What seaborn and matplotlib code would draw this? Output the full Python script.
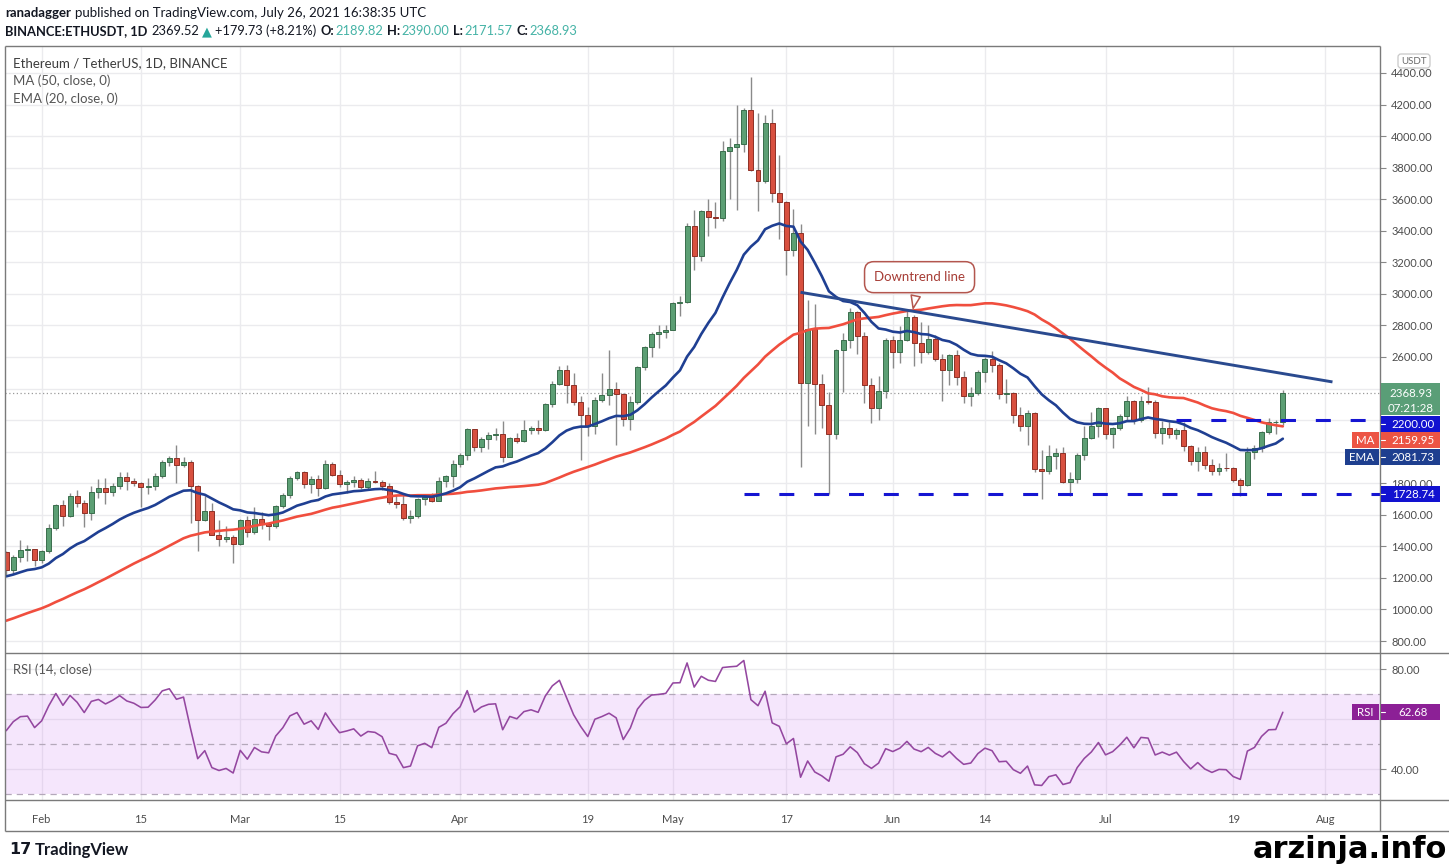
import numpy as np
import pandas as pd
import matplotlib
matplotlib.use("Agg")
import matplotlib.pyplot as plt
import matplotlib.dates as mdates
from matplotlib.patches import Rectangle, FancyBboxPatch
import seaborn as sns

# ---------------- data (ETH/USDT daily, Binance) ----------------
# closes before the visible window (Dec 8 2020 .. Jan 26 2021), used only to warm up MA/EMA/RSI
warmup_closes = [567, 573, 560, 545, 568, 590, 586, 589, 636, 643, 654, 658, 638, 609, 634, 584,
                 612, 626, 636, 683, 730, 731, 751, 737,
                 730, 774, 975, 1040, 1100, 1208, 1225, 1224, 1281, 1262, 1088, 1049, 1130, 1218,
                 1171, 1233, 1230, 1255, 1379, 1378, 1121, 1236, 1231, 1391, 1324, 1357]

start_date = "2021-01-27"

opens = [1362, 1250, 1330, 1377, 1382,
         1314, 1370, 1514, 1664, 1593, 1719, 1677, 1612, 1745, 1770, 1743, 1785, 1840, 1812, 1800, 1779,
         1781, 1845, 1937, 1960, 1915, 1935, 1780, 1570, 1626, 1475, 1446, 1459,
         1417, 1565, 1490, 1575, 1540, 1532, 1655, 1724, 1835, 1869, 1796, 1826, 1772, 1924, 1854, 1792,
         1806, 1823, 1778, 1811, 1806, 1782, 1681, 1669, 1582, 1590, 1700, 1715, 1690, 1817, 1846,
         1919, 1977, 2143, 2028, 2080, 2107, 2112, 1967, 2084, 2070, 2136, 2153, 2140, 2300, 2432, 2515,
         2422, 2316, 2235, 2160, 2330, 2360, 2396, 2366, 2208, 2316, 2535, 2663, 2747, 2757,
         2773, 2945, 2950, 3431, 3240, 3525, 3490, 3480, 3903, 3930, 3950, 4168, 3785, 3715, 4080, 3640,
         3585, 3280, 3383, 2437, 2775, 2430, 2296, 2109, 2643, 2706, 2888, 2736, 2420, 2278, 2387,
         2706, 2634, 2707, 2856, 2688, 2630, 2712, 2590, 2517, 2610, 2472, 2353, 2372, 2508, 2590, 2550,
         2367, 2373, 2230, 2165, 2246, 1889, 1875, 1970, 1990, 1810, 1829, 1982, 2085, 2160,
         2275, 2113, 2150, 2226, 2322, 2198, 2324, 2316, 2116, 2147, 2111, 2140, 2033, 1940, 1995, 1917,
         1875, 1898, 1895, 1820, 1788, 1995, 2026, 2124, 2187, 2189.82]

highs = [1372, 1345, 1440, 1410, 1386,
         1375, 1540, 1670, 1696, 1740, 1755, 1695, 1780, 1825, 1830, 1800, 1873, 1870, 1830, 1810, 1830,
         1865, 1950, 1970, 2042, 1968, 1950, 1790, 1720, 1673, 1565, 1530, 1475,
         1575, 1595, 1650, 1620, 1550, 1665, 1735, 1845, 1875, 1880, 1845, 1850, 1945, 1935, 1885, 1820,
         1845, 1835, 1835, 1875, 1820, 1800, 1725, 1738, 1630, 1705, 1730, 1735, 1840, 1850, 1945,
         1990, 2150, 2145, 2095, 2125, 2150, 2195, 2091, 2117, 2200, 2165, 2200, 2309, 2448, 2545, 2548,
         2497, 2355, 2280, 2347, 2497, 2645, 2440, 2370, 2350, 2540, 2670, 2757, 2800, 2800,
         2950, 2985, 3450, 3530, 3530, 3600, 3580, 3970, 3985, 4200, 4180, 4372, 4146, 4131, 4170, 3880,
         3590, 3540, 3440, 2960, 2938, 2490, 2375, 2650, 2750, 2910, 2890, 2760, 2470, 2480, 2720,
         2730, 2795, 2890, 2865, 2820, 2800, 2740, 2620, 2620, 2645, 2510, 2410, 2520, 2600, 2635, 2560,
         2460, 2380, 2280, 2265, 2250, 2010, 2045, 2025, 2030, 1870, 1990, 2165, 2250, 2285,
         2275, 2155, 2240, 2350, 2325, 2350, 2410, 2325, 2195, 2185, 2150, 2185, 2040, 2030, 2035, 1955,
         1925, 1990, 1900, 1830, 2030, 2043, 2130, 2215, 2200, 2390.00]

lows = [1220, 1225, 1300, 1305, 1275,
        1296, 1356, 1505, 1530, 1585, 1650, 1520, 1568, 1705, 1670, 1720, 1765, 1760, 1780, 1650, 1730,
        1760, 1830, 1910, 1801, 1905, 1548, 1371, 1560, 1470, 1400, 1430, 1293,
        1410, 1460, 1480, 1510, 1440, 1515, 1640, 1705, 1820, 1770, 1740, 1720, 1765, 1845, 1775, 1735,
        1775, 1765, 1760, 1800, 1756, 1670, 1645, 1570, 1550, 1580, 1665, 1680, 1685, 1777, 1775,
        1905, 1950, 2005, 1995, 2015, 2075, 1935, 1966, 2055, 2060, 2110, 2115, 2130, 2285, 2420, 2310,
        2295, 1950, 2100, 2110, 2316, 2295, 2040, 2162, 2140, 2300, 2520, 2600, 2660, 2720,
        2770, 2860, 2940, 3150, 3210, 3370, 3420, 3465, 3600, 3530, 3900, 3780, 3528, 3700, 3580, 3350,
        3120, 3240, 1900, 2160, 2113, 2150, 1728.74, 2080, 2380, 2660, 2620, 2310, 2180, 2200, 2340,
        2530, 2560, 2700, 2540, 2560, 2620, 2575, 2320, 2420, 2420, 2310, 2290, 2360, 2440, 2505, 2335,
        2310, 2180, 2130, 2040, 1870, 1700, 1860, 1890, 1800, 1720, 1800, 1950, 2080, 2090,
        2080, 2025, 2140, 2200, 2175, 2185, 2300, 2085, 2050, 2085, 2080, 2005, 1915, 1880, 1890, 1850,
        1852, 1875, 1810, 1718, 1783, 1955, 2000, 2112, 2115, 2171.57]

closes = [1250, 1330, 1377, 1382, 1314,
          1370, 1514, 1664, 1593, 1719, 1677, 1612, 1745, 1770, 1743, 1785, 1840, 1812, 1800, 1779, 1781,
          1845, 1937, 1960, 1915, 1935, 1780, 1570, 1626, 1475, 1446, 1459, 1417,
          1565, 1490, 1575, 1540, 1532, 1655, 1724, 1835, 1869, 1796, 1826, 1772, 1924, 1854, 1792, 1806,
          1823, 1778, 1811, 1806, 1782, 1681, 1669, 1582, 1590, 1700, 1715, 1690, 1817, 1846, 1919,
          1977, 2143, 2028, 2080, 2107, 2112, 1967, 2084, 2070, 2136, 2153, 2140, 2300, 2432, 2515, 2422,
          2316, 2235, 2160, 2330, 2360, 2396, 2366, 2208, 2316, 2535, 2663, 2747, 2757, 2773,
          2945, 2950, 3431, 3240, 3525, 3490, 3480, 3903, 3930, 3950, 4168, 3785, 3715, 4080, 3640, 3585,
          3280, 3383, 2437, 2775, 2430, 2296, 2109, 2643, 2706, 2888, 2736, 2420, 2278, 2387, 2706,
          2634, 2707, 2856, 2688, 2630, 2712, 2590, 2517, 2610, 2472, 2353, 2372, 2508, 2590, 2550, 2367,
          2373, 2230, 2165, 2246, 1889, 1875, 1970, 1990, 1810, 1829, 1982, 2085, 2160, 2275,
          2113, 2150, 2226, 2322, 2198, 2324, 2316, 2116, 2147, 2111, 2140, 2033, 1940, 1995, 1917, 1875,
          1898, 1895, 1820, 1788, 1995, 2026, 2124, 2187, 2190, 2368.93]

tick_dates = ["2021-02-01", "2021-02-15", "2021-03-01", "2021-03-15", "2021-04-01", "2021-04-19",
              "2021-05-01", "2021-05-17", "2021-06-01", "2021-06-14", "2021-07-01", "2021-07-19",
              "2021-08-01"]
tick_labels = ["Feb", "15", "Mar", "15", "Apr", "19", "May", "17", "Jun", "14", "Jul", "19", "Aug"]

price_ticks = list(range(800, 4401, 200))
rsi_ticks = [40, 60, 80]

support_levels = [1728.74, 2200.00]
support_from = ["2021-05-11", "2021-07-11"]
trend_dates = ["2021-05-19", "2021-08-02"]
trend_prices = [3010, 2442]
callout_date = "2021-06-03 19:00"

last_close = 2368.93
countdown = "07:21:28"
ma_last = 2159.95
ema_last = 2081.73
rsi_last = 62.68

# ---------------- style ----------------
sns.set_theme(style="white")
plt.rcParams['font.family'] = ['Lato', 'DejaVu Sans']

UP, UP_E = "#5c9f74", "#3a6e4c"
DN, DN_E = "#d8503f", "#8e3026"
WICK = "#8a8a8a"
MA_C = "#f04e3e"
EMA_C = "#1f3f92"
TREND_C = "#2a4a8f"
SUP_C = "#1515d2"
RSI_C = "#9447a0"
GRID = "#ebebee"
TXT = "#131722"
AXC = "#4d4d4d"
FRAME = "#7a7a7a"

W, H = 1449, 864
fig = plt.figure(figsize=(W / 100, H / 100), dpi=100)
fig.patch.set_facecolor("white")

PL, PR, PT, PM, PB, PX = 5, 1380, 46, 653, 800, 831


def frac_rect(l, t, r, b):
    return [l / W, 1 - b / H, (r - l) / W, (b - t) / H]


ax = fig.add_axes(frac_rect(PL, PT, PR, PM))
axr = fig.add_axes(frac_rect(PL, PM, PR, PB), sharex=ax)

dates = pd.date_range(start_date, periods=len(closes), freq="D")
xd = mdates.date2num(dates)
o = np.array(opens, float)
hi = np.array(highs, float)
lo = np.array(lows, float)
c = np.array(closes, float)
n = len(c)

# indicators (computed from the closes, as the platform does)
hist = pd.Series(warmup_closes + closes, dtype=float)
ma50 = hist.rolling(50).mean().to_numpy()[-n:]
ema20 = hist.ewm(span=20, adjust=False).mean().to_numpy()[-n:]
delta = hist.diff()
gain = delta.clip(lower=0).ewm(alpha=1 / 14, adjust=False).mean()
loss = (-delta.clip(upper=0)).ewm(alpha=1 / 14, adjust=False).mean()
rsi = (100 - 100 / (1 + gain / loss)).to_numpy()[-n:]
df = pd.DataFrame({"x": xd, "ma": ma50, "ema": ema20, "rsi": rsi})

# ---------------- price panel ----------------
XLIM = (xd[0] - 0.17, xd[0] + 193.7)
ax.set_xlim(*XLIM)
ax.set_ylim(724, 4571)
tick_x = mdates.date2num(pd.to_datetime(tick_dates))
for a in (ax, axr):
    a.set_facecolor("white")
    for s in a.spines.values():
        s.set_visible(False)
    a.set_axisbelow(True)

ax.set_xticks(tick_x)
ax.set_yticks(price_ticks)
ax.grid(True, color=GRID, linewidth=1)
ax.yaxis.tick_right()
ax.tick_params(axis='y', length=4, width=0.8, color="#888888", pad=4, labelsize=8, labelcolor=AXC)
ax.tick_params(axis='x', bottom=False, labelbottom=False)

up = c >= o
ax.vlines(xd, lo, hi, color=WICK, linewidth=1.0, zorder=2)
ax.bar(xd[up], (c - o)[up], bottom=o[up], width=0.7, color=UP, edgecolor=UP_E, linewidth=0.7, zorder=3)
ax.bar(xd[~up], (c - o)[~up], bottom=o[~up], width=0.7, color=DN, edgecolor=DN_E, linewidth=0.7, zorder=3)

sns.lineplot(data=df, x="x", y="ma", ax=ax, color=MA_C, linewidth=1.9, zorder=4)
sns.lineplot(data=df, x="x", y="ema", ax=ax, color=EMA_C, linewidth=1.9, zorder=4)
ax.set_xlabel("")
ax.set_ylabel("")

ax.axhline(last_close, color="#9a9a9a", linewidth=0.9, linestyle=(0, (1, 2)), zorder=1)

for lvl, d0 in zip(support_levels, support_from):
    x0 = mdates.date2num(pd.Timestamp(d0))
    ax.plot([x0, XLIM[1]], [lvl, lvl], color=SUP_C, linewidth=2.2,
            linestyle=(0, (4.9, 6.5)), zorder=5, solid_capstyle='butt')

trend_x = mdates.date2num(pd.to_datetime(trend_dates))
ax.plot(trend_x, trend_prices, color=TREND_C, linewidth=2.1, zorder=5, solid_capstyle='butt')

tip_x = mdates.date2num(pd.Timestamp(callout_date))
tip_y = np.interp(tip_x, trend_x, trend_prices)
ax.annotate("Downtrend line", xy=(tip_x, tip_y), xytext=(7, 34), textcoords="offset pixels",
            ha="center", va="center", fontsize=9.5, color="#a63c35", zorder=7,
            bbox=dict(boxstyle="round,pad=0.72,rounding_size=0.7", fc="white", ec="#b3564e", lw=1.1),
            arrowprops=dict(arrowstyle="wedge,tail_width=0.7,shrink_factor=0.5", fc="white",
                            ec="#b3564e", lw=1.1))

# ---------------- RSI panel ----------------
axr.set_ylim(27.6, 86.4)
axr.set_yticks(rsi_ticks)
axr.yaxis.tick_right()
axr.grid(True, color=GRID, linewidth=1)
axr.axhspan(30, 70, color="#cc78f0", alpha=0.18, linewidth=0, zorder=1)
for v in (70, 50, 30):
    axr.axhline(v, color="#b4a8ba", linewidth=0.9, linestyle=(0, (5, 4)), zorder=2)
sns.lineplot(data=df, x="x", y="rsi", ax=axr, color=RSI_C, linewidth=1.15, zorder=4)
axr.set_xlabel("")
axr.set_ylabel("")
axr.set_xticks(tick_x)
axr.set_xticklabels(tick_labels)
axr.tick_params(axis='y', length=4, width=0.8, color="#888888", pad=4, labelsize=8, labelcolor=AXC)
axr.tick_params(axis='x', length=4, width=0.8, color="#888888", pad=6, labelsize=8, labelcolor=AXC)
ax.set_xlim(*XLIM)

# ---------------- overlay (pixel coordinates, top-left origin) ----------------
ov = fig.add_axes([0, 0, 1, 1], zorder=10)
ov.set_xlim(0, W)
ov.set_ylim(H, 0)
ov.axis("off")
ov.patch.set_visible(False)

# frame
for (x0, y0, x1, y1) in [(PL, PT, PR, PT), (PL, PT, PL, PX), (PR, PT, PR, PX),
                         (PL, PM, W, PM), (PL, PB, W, PB), (PL, PX, W, PX)]:
    ov.plot([x0, x1], [y0, y1], color=FRAME, linewidth=1.0, solid_capstyle='butt')


def ypix(axis, v):
    return H - axis.transData.transform((XLIM[0], v))[1]


BOX_H = 16
spans = {"price": [], "rsi": []}


def value_box(y, text, fc, panel, tag=None, tag_w=27):
    h = BOX_H
    ov.add_patch(Rectangle((PR + 0.5, y - h / 2), 59, h, fc=fc, ec="none", zorder=5))
    ov.plot([PR + 0.5, PR + 4.5], [y, y], color="white", linewidth=0.8, zorder=6)
    ov.text(PR + 33, y + 0.5, text, color="white", fontsize=8.3, ha="center", va="center", zorder=6)
    if tag:
        ov.add_patch(Rectangle((PR - 1.5 - tag_w, y - h / 2), tag_w, h, fc=fc, ec="none", zorder=5))
        ov.text(PR - 1.5 - tag_w / 2, y + 0.5, tag, color="white", fontsize=8.3, ha="center",
                va="center", zorder=6)
    spans[panel].append((y - h / 2, y + h / 2))


# last price (two lines)
yl = ypix(ax, last_close)
ov.add_patch(Rectangle((PR + 0.5, yl - 10), 59, 32, fc="#5a9e77", ec="none", zorder=5))
ov.text(PR + 31, yl, f"{last_close:.2f}", color="white", fontsize=8.3, ha="center", va="center", zorder=6)
ov.text(PR + 31, yl + 15, countdown, color="white", fontsize=8.3, ha="center", va="center", zorder=6)
spans["price"].append((yl - 10, yl + 22))

# stacked axis labels (pushed down so they do not overlap, as the platform does)
stack = [(ypix(ax, support_levels[1]), f"{support_levels[1]:.2f}", "#1212d0", None, 0),
         (ypix(ax, ma_last), f"{ma_last:.2f}", "#ec5444", "MA", 27),
         (ypix(ax, ema_last), f"{ema_last:.2f}", "#1e3f8f", "EMA", 34),
         (ypix(ax, support_levels[0]), f"{support_levels[0]:.2f}", "#1212d0", None, 0)]
floor = yl + 22
for y, t, fc, tag, tw in sorted(stack, key=lambda s: s[0]):
    yc = max(y, floor + BOX_H / 2 + 0.5)
    value_box(yc, t, fc, "price", tag=tag, tag_w=tw)
    floor = yc + BOX_H / 2

value_box(ypix(axr, rsi_last), f"{rsi_last:.2f}", "#8c2096", "rsi", tag="RSI", tag_w=27)


# tick labels whose centre sits behind a value box are covered there, so they are left blank
def tick_texts(axis, ticks, panel):
    out = []
    for v in ticks:
        yv = ypix(axis, v)
        hidden = any(a - 1 <= yv <= b + 1 for a, b in spans[panel])
        out.append("" if hidden else f"{v:.2f}")
    return out


ax.set_yticklabels(tick_texts(ax, price_ticks, "price"))
axr.set_yticklabels(tick_texts(axr, rsi_ticks, "rsi"))

# USDT badge
ov.add_patch(FancyBboxPatch((1398, 54), 32, 14, boxstyle="round,pad=0,rounding_size=3",
                            fc="white", ec="#c8c8c8", lw=0.9, zorder=5))
ov.text(1414, 61.5, "USDT", fontsize=7, color="#6a6a6a", ha="center", va="center", zorder=6)

# legends
ov.text(13, 63, "Ethereum / TetherUS, 1D, BINANCE", fontsize=9.5, color="#3d3d3d", va="center")
ov.text(13, 81, "MA (50, close, 0)", fontsize=9.5, color="#555555", va="center")
ov.text(13, 99, "EMA (20, close, 0)", fontsize=9.5, color="#555555", va="center")
ov.text(13, 670, "RSI (14, close)", fontsize=9.3, color="#555555", va="center")


def chain(pieces, x, y, size=9.5):
    prev = None
    for s, color, weight, gap in pieces:
        if prev is None:
            prev = ov.text(x, y, s, color=color, fontweight=weight, fontsize=size, va="center", ha="left")
        else:
            prev = ov.annotate(s, xy=(1, 0.5), xycoords=prev, xytext=(gap, 0), textcoords="offset pixels",
                               va="center", ha="left", color=color, fontweight=weight, fontsize=size)


TEAL = "#45b3a6"
chain([("ranadagger", TXT, "bold", 0),
       ("published on TradingView.com, July 26, 2021 16:38:35 UTC", TXT, "normal", 4)], 5, 13)
chain([("BINANCE:ETHUSDT, 1D", TXT, "bold", 0),
       ("2369.52", TXT, "normal", 4),
       ("\u25B2", "#26a69a", "normal", 3),
       ("+179.73 (+8.21%)", TXT, "normal", 3),
       ("O:", TXT, "bold", 4), ("2189.82", TEAL, "normal", 1),
       ("H:", TXT, "bold", 4), ("2390.00", TEAL, "normal", 1),
       ("L:", TXT, "bold", 4), ("2171.57", TEAL, "normal", 1),
       ("C:", TXT, "bold", 4), ("2368.93", TEAL, "normal", 1)], 5, 31, size=9.3)

# footer
ov.text(9, 850, "17", fontsize=11.5, fontweight="heavy", color="#131722", va="center",
        family=["DejaVu Sans"])
ov.text(35, 850, "TradingView", fontsize=12, fontweight="bold", color="#131722", va="center")
ov.text(1447, 849, "arzinja.info", fontsize=22, fontweight="bold", color="black", ha="right",
        va="center", family=["DejaVu Sans"])

fig.savefig("out.png", dpi=100)
